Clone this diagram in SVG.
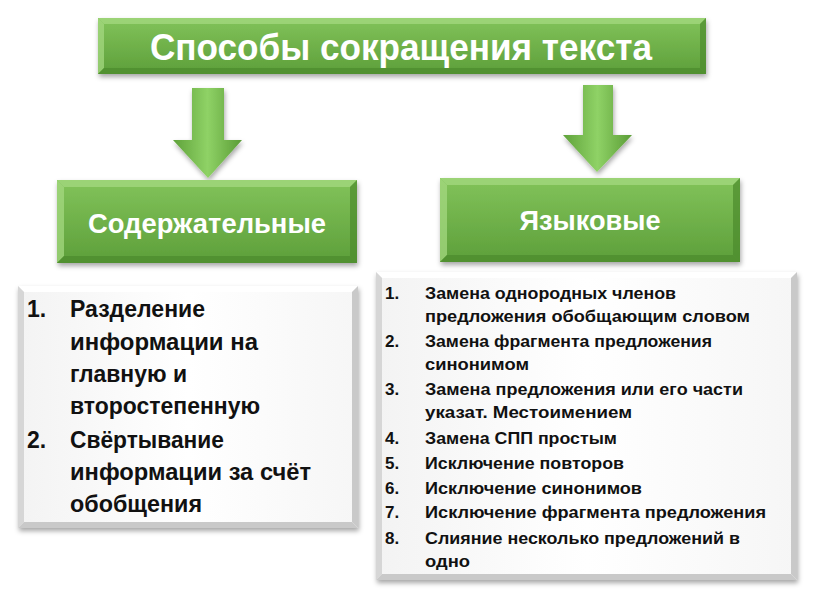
<svg xmlns="http://www.w3.org/2000/svg" width="816" height="613" viewBox="0 0 816 613">
<defs>
<linearGradient id="gfill" x1="0" y1="0" x2="0" y2="1">
<stop offset="0" stop-color="#82c35a"/>
<stop offset="1" stop-color="#5d9f3a"/>
</linearGradient>
<linearGradient id="afill" x1="0" y1="0" x2="1" y2="0">
<stop offset="0" stop-color="#5fa23a"/>
<stop offset="0.5" stop-color="#8fd266"/>
<stop offset="1" stop-color="#5a9c36"/>
</linearGradient>
<linearGradient id="wfill" x1="0" y1="0" x2="1" y2="0">
<stop offset="0" stop-color="#f3f3f3"/>
<stop offset="0.5" stop-color="#ffffff"/>
<stop offset="1" stop-color="#f6f6f6"/>
</linearGradient>
<filter id="sh" x="-10%" y="-10%" width="120%" height="130%">
<feDropShadow dx="1" dy="3" stdDeviation="2.5" flood-color="#000" flood-opacity="0.35"/>
</filter>
</defs>
<style>
.g{fill:url(#gfill)}
.hl{fill:#a4d880;opacity:0.75}
.hd{fill:#4b8a2c;opacity:0.7}
.wl{fill:#ffffff}
.wd{fill:#c9c9c9}
.t{font-family:"Liberation Sans",Arial,sans-serif;font-weight:bold;fill:#fff}
.l{font-family:"Liberation Sans",Arial,sans-serif;font-weight:bold;fill:#111}
</style>

<g id="connectors">
<polygon points="192,88 224,88 224,140 242,140 208,178 173,140 192,140" fill="url(#afill)" filter="url(#sh)"/>
<polygon points="583,85 613,85 613,135 632,135 597,172 563,135 583,135" fill="url(#afill)" filter="url(#sh)"/>
</g>

<g id="title">
<rect x="98" y="18" width="608" height="56" class="g" filter="url(#sh)"/>
<polygon points="98,18 706,18 700,24 104,24" class="hl"/>
<polygon points="98,18 104,24 104,68 98,74" class="hl"/>
<polygon points="706,18 706,74 700,68 700,24" class="hd"/>
<polygon points="98,74 706,74 700,68 104,68" class="hd"/>
<text x="401" y="60" text-anchor="middle" font-size="37" class="t" textLength="502" lengthAdjust="spacingAndGlyphs">Способы сокращения текста</text>
</g>

<g id="content">
<rect x="57" y="180" width="300" height="83" class="g" filter="url(#sh)"/>
<polygon points="57,180 357,180 350,187 64,187" class="hl"/>
<polygon points="57,180 64,187 64,256 57,263" class="hl"/>
<polygon points="357,180 357,263 350,256 350,187" class="hd"/>
<polygon points="57,263 357,263 350,256 64,256" class="hd"/>
<text x="207" y="233" text-anchor="middle" font-size="28" class="t" textLength="238" lengthAdjust="spacingAndGlyphs">Содержательные</text>
</g>

<g id="lang">
<rect x="440" y="178" width="300" height="84" class="g" filter="url(#sh)"/>
<polygon points="440,178 740,178 733,185 447,185" class="hl"/>
<polygon points="440,178 447,185 447,255 440,262" class="hl"/>
<polygon points="740,178 740,262 733,255 733,185" class="hd"/>
<polygon points="440,262 740,262 733,255 447,255" class="hd"/>
<text x="590" y="230" text-anchor="middle" font-size="28" class="t" textLength="141" lengthAdjust="spacingAndGlyphs">Языковые</text>
</g>

<g id="list-content">
<rect x="18" y="286" width="340" height="242" fill="url(#wfill)" filter="url(#sh)"/>
<polygon points="18,286 358,286 352,292 24,292" class="wl"/>
<polygon points="18,286 24,292 24,522 18,528" fill="#d6d6d6"/>
<polygon points="358,286 358,528 352,522 352,292" class="wd"/>
<polygon points="18,528 358,528 352,522 24,522" class="wd"/>
<g class="l" font-size="23">
<text x="27" y="317">1.</text>
<text x="70" y="317" textLength="135" lengthAdjust="spacingAndGlyphs">Разделение</text>
<text x="70" y="350" textLength="188" lengthAdjust="spacingAndGlyphs">информации на</text>
<text x="70" y="382" textLength="117" lengthAdjust="spacingAndGlyphs">главную и</text>
<text x="70" y="414" textLength="190" lengthAdjust="spacingAndGlyphs">второстепенную</text>
<text x="27" y="448">2.</text>
<text x="70" y="448" textLength="154" lengthAdjust="spacingAndGlyphs">Свёртывание</text>
<text x="70" y="480" textLength="241" lengthAdjust="spacingAndGlyphs">информации за счёт</text>
<text x="70" y="512" textLength="132" lengthAdjust="spacingAndGlyphs">обобщения</text>
</g>
</g>

<g id="list-lang">
<rect x="376" y="272" width="421" height="308" fill="url(#wfill)" filter="url(#sh)"/>
<polygon points="376,272 797,272 791,278 382,278" class="wl"/>
<polygon points="376,272 382,278 382,574 376,580" fill="#d6d6d6"/>
<polygon points="797,272 797,580 791,574 791,278" class="wd"/>
<polygon points="376,580 797,580 791,574 382,574" class="wd"/>
<g class="l" font-size="17">
<text x="385" y="299">1.</text>
<text x="425" y="299" textLength="251" lengthAdjust="spacingAndGlyphs">Замена однородных членов</text>
<text x="425" y="322" textLength="325" lengthAdjust="spacingAndGlyphs">предложения обобщающим словом</text>
<text x="385" y="347">2.</text>
<text x="425" y="347" textLength="287" lengthAdjust="spacingAndGlyphs">Замена фрагмента предложения</text>
<text x="425" y="370" textLength="104" lengthAdjust="spacingAndGlyphs">синонимом</text>
<text x="385" y="395">3.</text>
<text x="425" y="395" textLength="318" lengthAdjust="spacingAndGlyphs">Замена предложения или его части</text>
<text x="425" y="418" textLength="207" lengthAdjust="spacingAndGlyphs">указат. Местоимением</text>
<text x="385" y="444">4.</text>
<text x="425" y="444" textLength="192" lengthAdjust="spacingAndGlyphs">Замена СПП простым</text>
<text x="385" y="469">5.</text>
<text x="425" y="469" textLength="199" lengthAdjust="spacingAndGlyphs">Исключение повторов</text>
<text x="385" y="494">6.</text>
<text x="425" y="494" textLength="217" lengthAdjust="spacingAndGlyphs">Исключение синонимов</text>
<text x="385" y="518">7.</text>
<text x="425" y="518" textLength="341" lengthAdjust="spacingAndGlyphs">Исключение фрагмента предложения</text>
<text x="385" y="544">8.</text>
<text x="425" y="544" textLength="315" lengthAdjust="spacingAndGlyphs">Слияние несколько предложений в</text>
<text x="425" y="567" textLength="45" lengthAdjust="spacingAndGlyphs">одно</text>
</g>
</g>
</svg>
